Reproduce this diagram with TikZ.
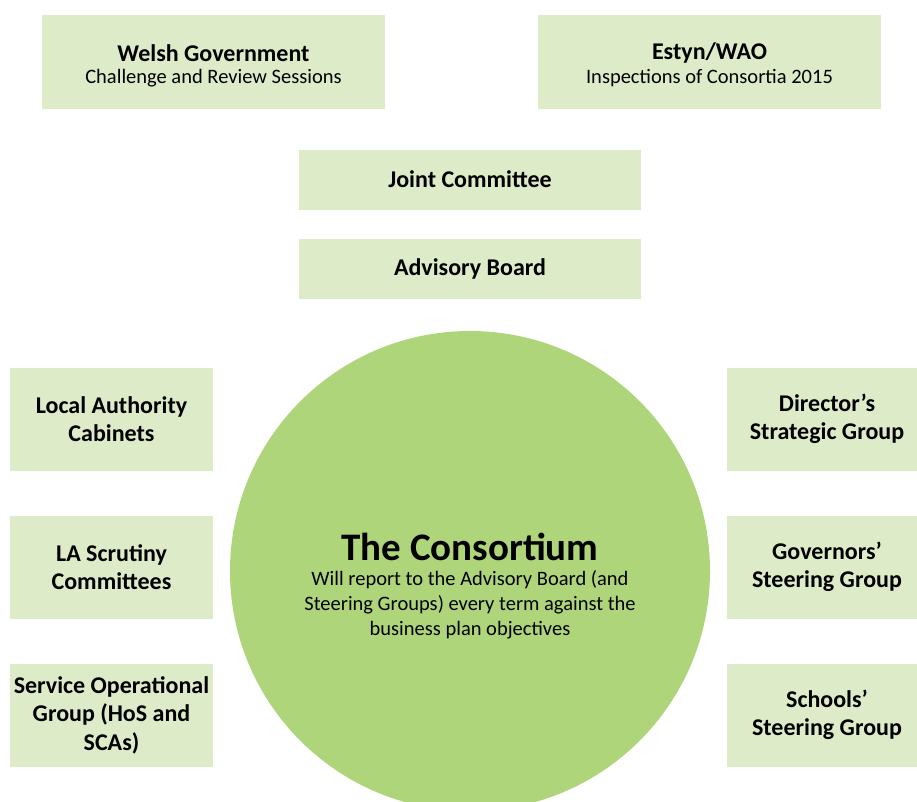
\documentclass[tikz,border=0pt]{standalone}
\usepackage{fontspec}
\setmainfont{Carlito}
\definecolor{boxgreen}{HTML}{DEEBC8}
\definecolor{circgreen}{HTML}{AFD57B}
\begin{document}
\begin{tikzpicture}[x=1pt,y=-1pt,
  box/.style={fill=boxgreen,draw=none,inner sep=0pt,align=center,font=\fontsize{24}{28.5}\selectfont\bfseries}]
\useasboundingbox (0,0) rectangle (917,801);
\begin{scope}
\clip (0,0) rectangle (917,801);
\node[circle,fill=circgreen,minimum size=480pt,inner sep=0pt] (cons) at (470,571) {};
% right boxes (run past the right edge)
\node[box,minimum width=200pt,minimum height=103pt] (dsg) at (827,419) {Director’s\\Strategic Group};
\node[box,minimum width=200pt,minimum height=103pt] (gsg) at (827,567) {Governors’\\Steering Group};
\node[box,minimum width=200pt,minimum height=103pt] (ssg) at (827,715) {Schools’\\Steering Group};
\end{scope}
\node[font=\fontsize{39}{42}\selectfont\bfseries] (title) at (470,547) {The Consortium};
\node[align=center,font=\fontsize{20.5}{25}\selectfont,inner sep=0pt] (constext) at (470,605) {Will report to the Advisory Board (and\\Steering Groups) every term against the\\business plan objectives};
% top boxes
\node[box,minimum width=343pt,minimum height=94pt] (wg) at (213.5,62) {};
\node[font=\fontsize{24}{28}\selectfont\bfseries] (wgt) at (213.5,53) {Welsh Government};
\node[font=\fontsize{20.5}{24}\selectfont] (wgs) at (213.5,78) {Challenge and Review Sessions};
\node[box,minimum width=343pt,minimum height=94pt] (estyn) at (709.5,62) {};
\node[font=\fontsize{24}{28}\selectfont\bfseries] (est) at (709.5,53) {Estyn/WAO};
\node[font=\fontsize{20.5}{24}\selectfont] (ess) at (709.5,78) {Inspections of Consortia 2015};
\node[box,minimum width=342pt,minimum height=60pt] (jc) at (470,179.5) {Joint Committee};
\node[box,minimum width=342pt,minimum height=60pt] (ab) at (470,268.5) {Advisory Board};
% left boxes
\node[box,minimum width=203pt,minimum height=103pt] (lac) at (111.5,419) {Local Authority\\Cabinets};
\node[box,minimum width=203pt,minimum height=103pt] (las) at (111.5,567) {LA Scrutiny\\Committees};
\node[box,minimum width=203pt,minimum height=103pt] (sog) at (111.5,715) {Service Operational\\Group (HoS and\\SCAs)};
\end{tikzpicture}
\end{document}
